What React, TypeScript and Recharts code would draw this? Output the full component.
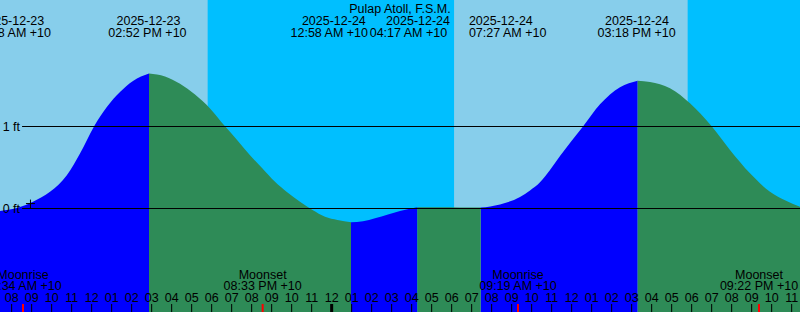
import React from 'react';
import { ComposedChart, Area, XAxis, YAxis, ReferenceArea, ReferenceLine, ReferenceDot } from 'recharts';

// hours counted from 00:00 on 2025-12-23 (+10)
const START = 7.4167;
const END = 47.4167;

// tide curve (ft)
const tideTimes = [
  7.417, 8.417, 9.067, 9.917, 10.767, 11.417, 12.117, 12.767, 13.417, 14.067, 14.867,
  15.667, 16.417, 17.167, 17.917, 18.667, 19.292, 19.917, 20.542, 21.167, 21.792, 22.417, 23.042, 23.667, 24.292, 24.967,
  25.567, 26.167, 26.817, 27.417, 28.283,
  29.35, 30.4, 31.45,
  32.417, 33.417, 33.917, 34.417, 34.917, 35.417, 36.567, 37.417, 38.417, 39.3,
  39.917, 40.917, 41.917, 43.0, 43.917, 44.917, 45.917, 46.667, 47.417,
];
const tideHeights = [
  -0.03, 0.018, 0.083, 0.204, 0.409, 0.67, 1.0, 1.24, 1.42, 1.555, 1.645,
  1.61, 1.52, 1.39, 1.221, 1.002, 0.829, 0.65, 0.488, 0.325, 0.195, 0.083, -0.018, -0.1, -0.14, -0.168,
  -0.156, -0.12, -0.073, -0.03, 0.015,
  0.014, 0.012, 0.011,
  0.05, 0.14, 0.22, 0.32, 0.47, 0.64, 1.0, 1.27, 1.48, 1.559,
  1.543, 1.466, 1.283, 1.002, 0.713, 0.429, 0.205, 0.1, 0.022,
];

// high / low turning points
const turnTimes = [14.867, 24.967, 28.283, 31.45, 39.3];

// sunset -> sunrise
const nightStarts = [17.8, 41.8];
const nightEnds = [30.12, END];

const topDates = ['2025-12-23', '2025-12-23', '2025-12-24', '2025-12-24', '2025-12-24', '2025-12-24'];
const topTimes = ['07:08 AM +10', '02:52 PM +10', '12:58 AM +10', '04:17 AM +10', '07:27 AM +10', '03:18 PM +10'];
const topDateAt = [8.03, 14.84, 24.11, 28.32, 32.46, 39.27];
const topTimeAt = [8.03, 14.79, 23.88, 27.84, 32.8, 39.25];

const moonNames = ['Moonrise', 'Moonset', 'Moonrise', 'Moonset'];
const moonTimes = ['08:34 AM +10', '08:33 PM +10', '09:19 AM +10', '09:22 PM +10'];
const moonAt = [8.567, 20.55, 33.317, 45.367];

const hourTicks = [
  8, 9, 10, 11, 12, 13, 14, 15, 16, 17, 18, 19, 20, 21, 22, 23, 24, 25, 26, 27,
  28, 29, 30, 31, 32, 33, 34, 35, 36, 37, 38, 39, 40, 41, 42, 43, 44, 45, 46, 47,
];

const FONT = '"Liberation Sans", Arial, sans-serif';
const FS = 12.5;

const data = tideTimes.map((t, i) => {
  const h = tideHeights[i];
  const k = turnTimes.filter((e) => e < t - 1e-6).length;
  const onTurn = turnTimes.some((e) => Math.abs(e - t) < 1e-6);
  const rising = k % 2 === 0;
  return { t, rise: rising || onTurn ? h : null, fall: !rising || onTurn ? h : null };
});

const hourLabel = (h: number) => {
  const v = h % 12 === 0 ? 12 : h % 12;
  return String(v).padStart(2, '0');
};

const textAt = (text: string, dy: (vb: any) => number, anchor = 'middle', dx = 0) => (p: any) => {
  const vb = p.viewBox;
  return (
    <text x={vb.x + dx} y={dy(vb)} textAnchor={anchor} fontFamily={FONT} fontSize={FS} fill="#000">
      {text}
    </text>
  );
};

const bottomTick = (color: string, w: number) => (p: any) => {
  const yb = Math.max(p.y1, p.y2);
  return <line x1={p.x1} x2={p.x1} y1={yb - 8} y2={yb} stroke={color} strokeWidth={w} />;
};

const Cross = (p: any) => (
  <g stroke="#000" strokeWidth={1}>
    <line x1={p.cx - 4.5} x2={p.cx + 4.5} y1={p.cy} y2={p.cy} />
    <line x1={p.cx} x2={p.cx} y1={p.cy - 4} y2={p.cy + 4.5} />
  </g>
);

export default function App() {
  return (
    <div style={{ position: 'absolute', left: 0, top: 0, width: 800, height: 312 }}>
      <ComposedChart width={800} height={312} data={data} margin={{ top: 0, right: 0, bottom: 0, left: 0 }}
        style={{ background: '#87CEEB' }}>
        <XAxis dataKey="t" type="number" domain={[START, END]} hide allowDataOverflow />
        <YAxis type="number" domain={[-1.2622, 2.5427]} hide allowDataOverflow />
        {nightStarts.map((s, i) => (
          <ReferenceArea key={'n' + i} x1={s} x2={nightEnds[i]} fill="#00BFFF" fillOpacity={1} stroke="none"
            ifOverflow="hidden" zIndex={-50} />
        ))}
        <Area dataKey="rise" type="monotone" baseValue={-1.2622} fill="#0000FF" fillOpacity={1} stroke="none"
          dot={false} activeDot={false} isAnimationActive={false} connectNulls={false} />
        <Area dataKey="fall" type="monotone" baseValue={-1.2622} fill="#2E8B57" fillOpacity={1} stroke="none"
          dot={false} activeDot={false} isAnimationActive={false} connectNulls={false} />
        <ReferenceLine segment={[{ x: 8.52, y: 1 }, { x: END, y: 1 }]} stroke="#000" strokeWidth={1} zIndex={600}
          label={textAt('1 ft', (vb) => vb.y + 4, 'end', -2)} />
        <ReferenceLine segment={[{ x: 8.52, y: 0 }, { x: END, y: 0 }]} stroke="#000" strokeWidth={1} zIndex={600}
          label={textAt('0 ft', (vb) => vb.y + 4, 'end', -2)} />
        <ReferenceDot x={8.94} y={0.06} r={4} shape={Cross} zIndex={600} />
        <ReferenceLine x={(START + END) / 2} stroke="none" label={textAt('Pulap Atoll, F.S.M.', (vb) => vb.y + 12.5)} />
        {topDates.map((d, i) => (
          <ReferenceLine key={'d' + i} x={topDateAt[i]} stroke="none" label={textAt(d, (vb) => vb.y + 25)} />
        ))}
        {topTimes.map((d, i) => (
          <ReferenceLine key={'tt' + i} x={topTimeAt[i]} stroke="none" label={textAt(d, (vb) => vb.y + 36.5)} />
        ))}
        {moonNames.map((m, i) => (
          <ReferenceLine key={'m' + i} x={moonAt[i]} stroke="none" label={textAt(m, (vb) => vb.y + vb.height - 33.5)} />
        ))}
        {moonTimes.map((m, i) => (
          <ReferenceLine key={'mt' + i} x={moonAt[i]} shape={bottomTick('#FF0000', 2)} zIndex={600}
            label={textAt(m, (vb) => vb.y + vb.height - 22)} />
        ))}
        {hourTicks.map((h) => (
          <ReferenceLine key={'h' + h} x={h} shape={bottomTick('#000', h % 24 === 0 ? 3 : 1)} zIndex={600}
            label={textAt(hourLabel(h), (vb) => vb.y + vb.height - 10.5)} />
        ))}
      </ComposedChart>
    </div>
  );
}
